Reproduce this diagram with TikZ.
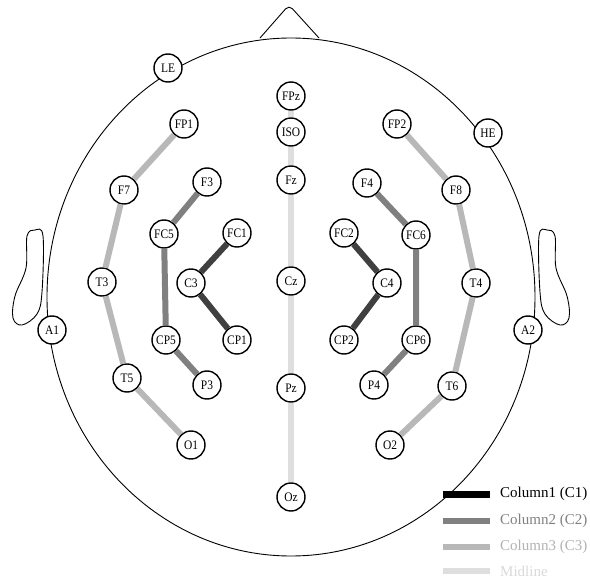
\documentclass[tikz,border=0pt]{standalone}
\usepackage{fontspec}
\setmainfont{Liberation Serif}
\newfontfamily\elecfont{Liberation Serif}[FakeStretch=0.88]
\usepackage{xcolor}
\usepackage{tikz}

\tikzset{
  elec/.style={circle, draw, line width=1.4pt, fill=white, minimum size=28pt, inner sep=0pt, font=\elecfont\fontsize{13}{13}\selectfont},
  colone/.style={line width=6pt, draw=black!75},
  coltwo/.style={line width=6pt, draw=black!50},
  colthree/.style={line width=6pt, draw=black!28},
  midline/.style={line width=6pt, draw=black!13},
  swatch/.style={minimum width=47pt, minimum height=6pt, inner sep=0pt},
  legtext/.style={anchor=west, inner sep=0pt, font=\fontsize{15}{15}\selectfont}
}

\begin{document}
\begin{tikzpicture}[x=1pt, y=-1pt]
    \useasboundingbox (0,0) rectangle (590,578);
    % head, nose and ears
    \draw[line width=0.9pt] (291,297) ellipse [x radius=244, y radius=259];
    \draw[line width=0.9pt, rounded corners=5pt] (260,38) -- (289,5) -- (319,38);
    \draw[line width=0.9pt] plot[smooth cycle, tension=0.6] coordinates {(35,230) (43,236) (42,292) (37,314) (22,325) (13,318) (15,296) (26,268) (27,236)};
    \draw[line width=0.9pt] plot[smooth cycle, tension=0.6] coordinates {(547,230) (539,236) (540,292) (545,314) (560,325) (569,318) (567,296) (556,268) (555,236)};

    % electrodes
    \node[elec] (LE) at (168,68) {LE};
    \node[elec] (HE) at (488,133) {HE};
    \node[elec] (A1) at (52,330) {A1};
    \node[elec] (A2) at (528,330) {A2};
    \node[elec] (FPz) at (291,96) {FPz};
    \node[elec] (ISO) at (291,132) {ISO};
    \node[elec] (Fz) at (291,180) {Fz};
    \node[elec] (Cz) at (291,281) {Cz};
    \node[elec] (Pz) at (291,388) {Pz};
    \node[elec] (Oz) at (291,497) {Oz};
    \node[elec] (FP1) at (184,124) {FP1};
    \node[elec] (F7) at (124,190) {F7};
    \node[elec] (T3) at (102,282) {T3};
    \node[elec] (T5) at (127,378) {T5};
    \node[elec] (O1) at (191,445) {O1};
    \node[elec] (F3) at (207,182) {F3};
    \node[elec] (FC5) at (164,234) {FC5};
    \node[elec] (CP5) at (166,340) {CP5};
    \node[elec] (P3) at (207,385) {P3};
    \node[elec] (FC1) at (237,233) {FC1};
    \node[elec] (C3) at (191,283) {C3};
    \node[elec] (CP1) at (237,340) {CP1};
    \node[elec] (FP2) at (397,124) {FP2};
    \node[elec] (F8) at (456,190) {F8};
    \node[elec] (T4) at (476,283) {T4};
    \node[elec] (T6) at (452,386) {T6};
    \node[elec] (O2) at (390,445) {O2};
    \node[elec] (F4) at (367,183) {F4};
    \node[elec] (FC6) at (416,235) {FC6};
    \node[elec] (CP6) at (416,340) {CP6};
    \node[elec] (P4) at (374,385) {P4};
    \node[elec] (FC2) at (344,233) {FC2};
    \node[elec] (C4) at (387,283) {C4};
    \node[elec] (CP2) at (344,340) {CP2};

    % columns
    \draw[colone] (FC1) -- (C3) -- (CP1);
    \draw[colone] (FC2) -- (C4) -- (CP2);
    \draw[coltwo] (F3) -- (FC5) -- (CP5) -- (P3);
    \draw[coltwo] (F4) -- (FC6) -- (CP6) -- (P4);
    \draw[colthree] (FP1) -- (F7) -- (T3) -- (T5) -- (O1);
    \draw[colthree] (FP2) -- (F8) -- (T4) -- (T6) -- (O2);
    \draw[midline] (FPz) -- (ISO) -- (Fz) -- (Cz) -- (Pz) -- (Oz);

    % legend
    \node[swatch, fill=black, minimum height=7pt] (k1) at (466,494) {};
    \node[swatch, fill=black!50] (k2) at (466,521) {};
    \node[swatch, fill=black!28] (k3) at (466,547) {};
    \node[swatch, fill=black!13] (k4) at (466,571) {};
    \node[legtext] (t1) at (500,494) {Column1 (C1)};
    \node[legtext, text=black!50] (t2) at (500,521) {Column2 (C2)};
    \node[legtext, text=black!30] (t3) at (500,547) {Column3 (C3)};
    \node[legtext, text=black!15] (t4) at (500,571) {Midline};
\end{tikzpicture}
\end{document}
